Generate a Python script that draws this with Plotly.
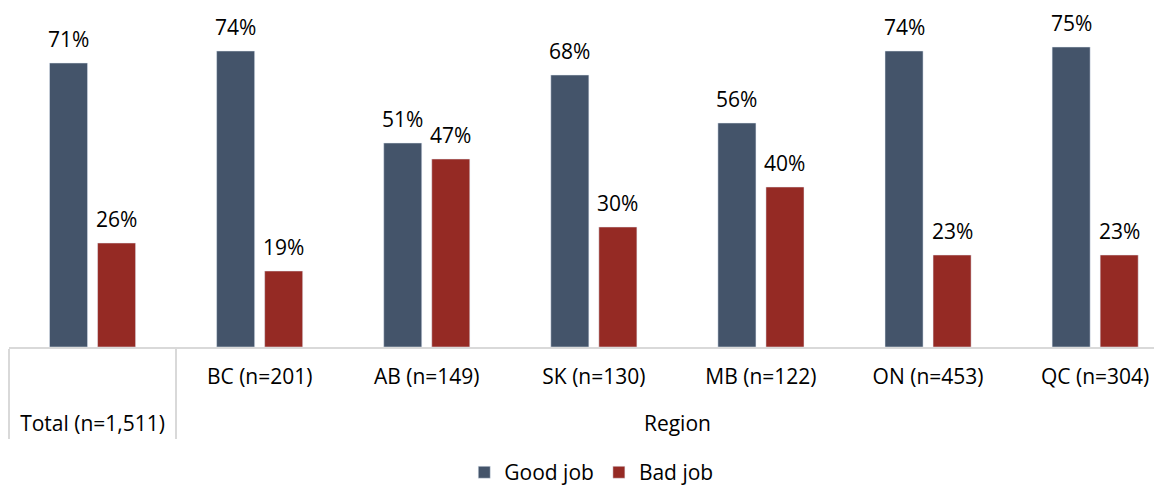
import plotly.graph_objects as go

outer = ["Total (n=1,511)", "Region", "Region", "Region", "Region", "Region", "Region"]
inner = [" <br> ", "BC (n=201)", "AB (n=149)", "SK (n=130)", "MB (n=122)", "ON (n=453)", "QC (n=304)"]
good_job = [71, 74, 51, 68, 56, 74, 75]
bad_job = [26, 19, 47, 30, 40, 23, 23]

font_family = "Open Sans, Liberation Sans, sans-serif"
FS = 21
GOOD = "#44546A"
BAD = "#952A24"

fig = go.Figure()
fig.add_trace(go.Bar(x=[outer, inner], y=good_job, name="Good job", marker_color=GOOD))
fig.add_trace(go.Bar(x=[outer, inner], y=bad_job, name="Bad job", marker_color=BAD))

# data labels placed through the axis scales (x = category index, y = value)
for series, shift in ((good_job, -24), (bad_job, 24)):
    for i, v in enumerate(series):
        fig.add_annotation(
            x=i, y=v, xref="x", yref="y", text=f"{v}%", showarrow=False,
            xanchor="center", yanchor="bottom", xshift=shift, yshift=8,
            font=dict(size=FS, color="#000000", family=font_family),
        )

# the page body has an 8px margin, so the figure is sized to fit the window
fig.update_layout(
    width=1154, height=479,
    margin=dict(l=1, r=0, t=0, b=140, autoexpand=False),
    paper_bgcolor="white", plot_bgcolor="white",
    font=dict(family=font_family, size=FS, color="#000000"),
    barmode="group", bargap=0.425, bargroupgap=0.208,
    showlegend=True,
    legend=dict(orientation="h", x=0.505, xanchor="center", y=-0.31, yanchor="top",
                font=dict(size=FS), traceorder="normal"),
)
fig.update_xaxes(
    type="multicategory", range=[-0.5, 6.4], automargin=False,
    showline=True, linecolor="#D9D9D9", linewidth=2,
    showdividers=True, dividercolor="#D9D9D9", dividerwidth=2,
    tickfont=dict(size=FS), ticks="", ticklabelstandoff=10,
)
fig.update_yaxes(range=[0, 84.75], visible=False, showgrid=False)

fig.write_html("out.html")
